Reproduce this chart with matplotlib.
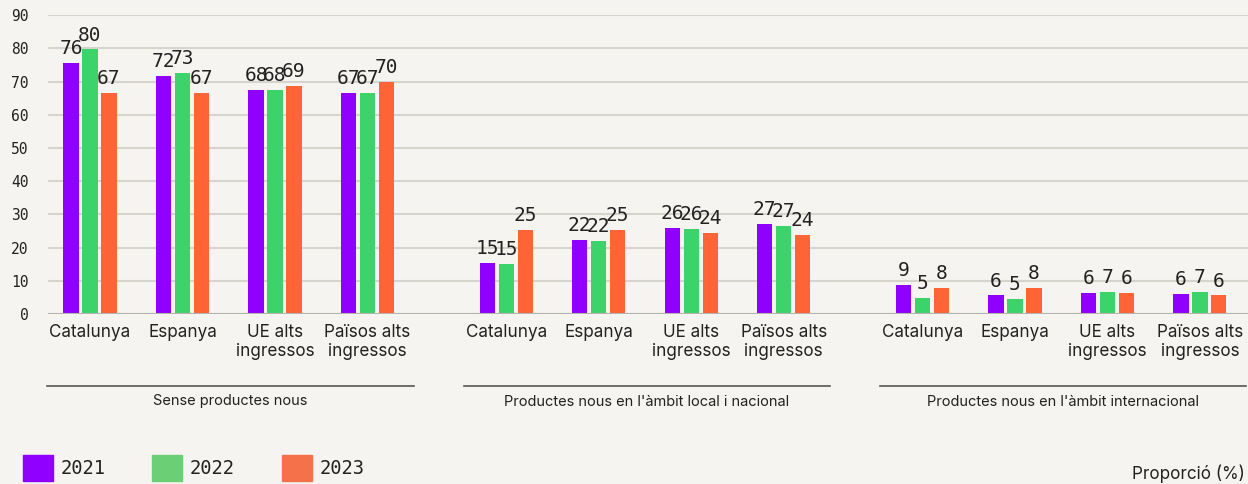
import matplotlib
matplotlib.use('Agg')
import matplotlib.pyplot as plt
from matplotlib.patches import Patch
from matplotlib.lines import Line2D
import matplotlib.transforms as mtransforms

# Data (proportion, %)
groups = ['Sense productes nous',
          "Productes nous en l'àmbit local i nacional",
          "Productes nous en l'àmbit internacional"]
regions = ['Catalunya', 'Espanya', 'UE alts\ningressos', 'Països alts\ningressos']
years = ['2021', '2022', '2023']

vals_2021 = [75.6, 71.7, 67.6, 66.6, 15.4, 22.3, 25.9, 27.1, 8.7, 5.6, 6.3, 6.0]
vals_2022 = [79.7, 72.6, 67.6, 66.6, 15.1, 22.0, 25.6, 26.6, 4.8, 4.6, 6.6, 6.6]
vals_2023 = [66.6, 66.6, 68.7, 69.9, 25.3, 25.3, 24.4, 23.8, 7.8, 7.8, 6.3, 5.6]

bar_colors = ['#8F00FF', '#3DD36B', '#FF6436']
legend_colors = ['#8F00FF', '#6BCF76', '#F5714A']
bg = '#F5F4F0'
txt = '#222222'
mono = ['DejaVu Sans Mono']
sans = ['Inter', 'DejaVu Sans']

# category positions: 4 per group, gap between groups
gap = 4.5
x = [g * gap + i for g in range(len(groups)) for i in range(len(regions))]

fig = plt.figure(figsize=(12.48, 4.84), dpi=100, facecolor=bg)
ax = fig.add_axes([48 / 1248, 1 - 314 / 484, 1 - 48 / 1248, (314 - 15.3) / 484])
ax.set_facecolor(bg)

w = 0.165
step = 0.205
for k, (vals, col) in enumerate(zip([vals_2021, vals_2022, vals_2023], bar_colors)):
    xs = [xi + (k - 1) * step for xi in x]
    bars = ax.bar(xs, vals, width=w, color=col, zorder=3)
    ax.bar_label(bars, fmt='%.0f', padding=3.5, fontsize=14, color=txt,
                 fontfamily=mono)

ax.set_ylim(0, 90)
ax.set_xlim(-0.454, 12.52)
ax.set_yticks(range(0, 91, 10))
ax.grid(axis='y', color='#D6D4CD', lw=1.5, zorder=0)
ax.axhline(0, color='#B5B3AC', lw=1.5, zorder=4)
for s in ax.spines.values():
    s.set_visible(False)
ax.tick_params(axis='y', length=0, pad=14, labelsize=10.5, labelcolor=txt)
for t in ax.get_yticklabels():
    t.set_fontfamily(mono)
ax.set_xticks(x)
ax.set_xticklabels(regions * len(groups), fontsize=12.3, color=txt,
                   linespacing=1.2)
ax.tick_params(axis='x', length=0, pad=7)
for t in ax.get_xticklabels():
    t.set_fontfamily(sans)

# group separators and labels
trans = mtransforms.blended_transform_factory(ax.transData, fig.transFigure)
for g, name in enumerate(groups):
    x0 = g * gap - 0.46
    x1 = g * gap + len(regions) - 1 + 0.5
    fig.add_artist(Line2D([x0, x1], [1 - 385.5 / 484] * 2, transform=trans,
                          color='#555555', lw=1.2))
    fig.text((x0 + x1) / 2, 1 - 401.5 / 484, name, transform=trans,
             ha='center', va='center', fontsize=10.5, color=txt, fontfamily=sans)

handles = [Patch(color=c, label=y) for c, y in zip(legend_colors, years)]
fig.legend(handles=handles, loc='upper left', bbox_to_anchor=(23 / 1248, 1 - 455 / 484),
           ncol=3, frameon=False, borderpad=0, borderaxespad=0,
           handlelength=1.6, handleheight=1.75, handletextpad=0.4,
           columnspacing=2.5, prop={'family': mono, 'size': 13.5},
           labelcolor=txt)

fig.text(1245 / 1248, 1 - 474 / 484, 'Proporció (%)', ha='right', va='center',
         fontsize=12.3, color=txt, fontfamily=sans)

fig.savefig('out.png', dpi=100, facecolor=bg)
